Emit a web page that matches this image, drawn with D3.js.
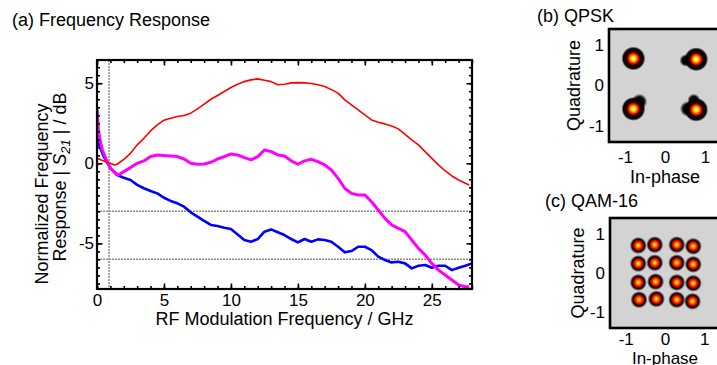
<!DOCTYPE html>
<html>
<head>
<meta charset="utf-8">
<script src="https://cdn.jsdelivr.net/npm/d3@7"></script>
<style>
  body { margin: 0; background: #fff; }
  svg { display: block; font-family: "Liberation Sans", Arial, sans-serif; }
</style>
</head>
<body>
<svg id="fig" width="717" height="365"></svg>
<script>
// (a) normalized |S21| in dB against RF frequency in GHz
const redFreq = [0, 0.5, 1, 1.3, 1.5, 2, 2.5, 3, 3.5, 4, 4.5, 5, 5.5, 6, 6.5, 7, 7.5, 8, 8.5, 9, 9.5, 10, 10.5, 11, 11.5, 12, 12.5, 13, 13.5, 14, 14.5, 15, 15.5, 16, 16.5, 17, 17.5, 18, 18.5, 19, 19.5, 20, 20.5, 21, 21.5, 22, 22.5, 23, 23.5, 24, 24.5, 25, 25.5, 26, 26.5, 27, 27.5, 27.8];
const redDb = [0.31, 0.15, 0.0, -0.1, -0.06, 0.25, 0.62, 1.15, 1.56, 2.02, 2.4, 2.69, 2.81, 2.92, 2.98, 3.13, 3.4, 3.69, 4.0, 4.23, 4.48, 4.73, 4.94, 5.1, 5.21, 5.27, 5.19, 5.1, 4.9, 4.94, 5.02, 5.04, 5.02, 4.98, 4.9, 4.79, 4.6, 4.38, 3.96, 3.65, 3.33, 3.02, 2.71, 2.56, 2.46, 2.33, 2.15, 1.81, 1.46, 1.15, 0.73, 0.31, -0.1, -0.48, -0.79, -1.04, -1.25, -1.35];

const magentaFreq = [0, 0.1, 0.2, 0.4, 0.7, 1, 1.3, 1.6, 2, 2.5, 3, 3.5, 4, 4.5, 5, 5.5, 6, 6.5, 7, 7.5, 8, 8.5, 9, 9.5, 10, 10.5, 11, 11.5, 12, 12.5, 13, 13.5, 14, 14.5, 15, 15.5, 16, 16.5, 17, 17.5, 18, 18.5, 19, 19.5, 20, 20.5, 21, 21.5, 22, 22.5, 23, 23.5, 24, 24.5, 25, 25.5, 26, 26.5, 27, 27.5, 27.8];
const magentaDb = [3.44, 2.19, 1.56, 0.83, 0.21, -0.31, -0.56, -0.73, -0.52, -0.27, 0.0, 0.15, 0.42, 0.52, 0.48, 0.46, 0.42, 0.27, 0.0, -0.06, -0.04, 0.06, 0.27, 0.42, 0.58, 0.52, 0.35, 0.21, 0.42, 0.83, 0.73, 0.52, 0.46, 0.15, -0.06, 0.15, 0.25, 0.1, -0.1, -0.42, -0.94, -1.56, -1.88, -1.98, -1.98, -2.4, -2.92, -3.44, -3.85, -4.06, -4.27, -4.79, -5.31, -5.73, -6.25, -6.67, -6.98, -7.29, -7.6, -7.71, -7.71];

const blueFreq = [0, 0.2, 0.5, 0.8, 1, 1.5, 2, 2.5, 3, 3.5, 4, 4.5, 5, 5.5, 6, 6.5, 7, 7.5, 8, 8.5, 9, 9.5, 10, 10.5, 11, 11.5, 12, 12.5, 13, 13.5, 14, 14.5, 15, 15.5, 16, 16.5, 17, 17.5, 18, 18.5, 19, 19.5, 20, 20.5, 21, 21.5, 22, 22.5, 23, 23.5, 24, 24.5, 25, 25.5, 26, 26.5, 27, 27.5, 28];
const blueDb = [1.56, 1.04, 0.42, 0.0, -0.31, -0.73, -0.9, -1.04, -1.35, -1.56, -1.73, -1.88, -2.15, -2.35, -2.5, -2.71, -3.06, -3.33, -3.6, -3.85, -3.92, -4.02, -4.1, -4.44, -4.79, -4.9, -4.73, -4.27, -4.13, -4.31, -4.48, -4.73, -4.94, -4.73, -4.9, -4.75, -4.79, -4.9, -5.21, -5.56, -5.48, -5.21, -5.21, -5.42, -5.83, -6.04, -6.19, -6.15, -6.25, -6.56, -6.4, -6.35, -6.52, -6.4, -6.4, -6.67, -6.52, -6.4, -6.25];

const freqTicks = [0, 5, 10, 15, 20, 25];
const dbTicks = [-5, 0, 5];
const refLevels = [-3, -6];
const refFreq = 0.9;

// (b) QPSK cluster centres and spread tails (I, Q, radius)
const qpskI = [-0.79, 0.78, -0.79, 0.78];
const qpskQ = [0.67, 0.65, -0.58, -0.60];
const qpskTailI = [0.52, -0.64, 0.57, 0.72];
const qpskTailQ = [0.62, -0.40, -0.58, -0.36];
const qpskTailR = [0.16, 0.2, 0.2, 0.16];

// (c) QAM-16 cluster centres
const qamI = [-0.68, -0.26, 0.30, 0.72, -0.68, -0.26, 0.30, 0.72, -0.68, -0.24, 0.30, 0.72, -0.66, -0.22, 0.30, 0.70];
const qamQ = [0.70, 0.72, 0.72, 0.68, 0.24, 0.26, 0.26, 0.22, -0.24, -0.22, -0.24, -0.26, -0.68, -0.66, -0.68, -0.72];

const iqTicks = [-1, 0, 1];

const svg = d3.select("#fig");
const FS = 18;
const TFS = 17;
const plain = d => String(d); // hyphen minus, like the original

// gradients for the density blobs
const defs = svg.append("defs");
function addGrad(id, stops) {
  const g = defs.append("radialGradient").attr("id", id);
  stops.forEach(s => g.append("stop").attr("offset", s[0]).attr("stop-color", s[1]).attr("stop-opacity", s[2] == null ? 1 : s[2]));
}
addGrad("qpskBlob", [["0%", "#fffff0"], ["11%", "#ffff40"], ["24%", "#ffb000"], ["37%", "#ff3000"], ["48%", "#a00000"], ["57%", "#200000"], ["84%", "#000", 0.95], ["100%", "#000", 0]]);
addGrad("qamBlob", [["0%", "#ffff90"], ["13%", "#ffd000"], ["30%", "#ff5a00"], ["48%", "#e00000"], ["62%", "#700000"], ["72%", "#000"], ["100%", "#000", 0]]);
addGrad("tailBlob", [["0%", "#000"], ["60%", "#000", 0.95], ["100%", "#000", 0]]);

// ---------- (a) frequency response ----------
const x = d3.scaleLinear().domain([0, 28]).range([97, 472]);
const y = d3.scaleLinear().domain([-7.85, 6.45]).range([289, 60]);

svg.append("text").attr("x", 12).attr("y", 26).attr("font-size", FS).text("(a) Frequency Response");

defs.append("clipPath").attr("id", "plotClip").append("rect")
  .attr("x", 97).attr("y", 60).attr("width", 375).attr("height", 229);

// reference lines
svg.selectAll(".ref").data(refLevels).enter().append("line")
  .attr("x1", x(0)).attr("x2", x(28))
  .attr("y1", d => y(d)).attr("y2", d => y(d))
  .attr("stroke", "#8c8c8c").attr("stroke-width", 1.5).attr("stroke-dasharray", "2,1");
svg.append("line")
  .attr("x1", x(refFreq)).attr("x2", x(refFreq))
  .attr("y1", y(6.45)).attr("y2", y(-7.85))
  .attr("stroke", "#8c8c8c").attr("stroke-width", 1.5).attr("stroke-dasharray", "2,1");

const series = [
  { f: blueFreq, v: blueDb, color: "#0000ff", w: 2.6 },
  { f: magentaFreq, v: magentaDb, color: "#ff00ff", w: 3 },
  { f: redFreq, v: redDb, color: "#ff0000", w: 1.6 }
];
const line = d3.line().x(d => x(d[0])).y(d => y(d[1]));
series.forEach(s => {
  svg.append("path")
    .datum(s.f.map((f, i) => [f, s.v[i]]))
    .attr("clip-path", "url(#plotClip)")
    .attr("fill", "none")
    .attr("stroke", s.color)
    .attr("stroke-width", s.w)
    .attr("stroke-linejoin", "round")
    .attr("d", line);
});

// ticks on all four sides (inward), major + minor
function styleAxis(g) {
  g.select(".domain").remove();
  g.selectAll("line").attr("stroke", "#000").attr("stroke-width", 1.6);
  g.selectAll("text").attr("font-size", TFS).attr("font-family", "Liberation Sans, Arial, sans-serif").attr("fill", "#000");
}
const minorF = d3.range(0, 29, 1);
const minorDb = d3.range(-7.5, 6.5, 0.5);

svg.append("g").attr("transform", "translate(0,289)")
  .call(d3.axisBottom(x).tickValues(freqTicks).tickFormat(plain).tickSizeInner(-5.5).tickSizeOuter(0).tickPadding(4.5)).call(styleAxis);
svg.append("g").attr("transform", "translate(0,289)")
  .call(d3.axisBottom(x).tickValues(minorF).tickFormat("").tickSizeInner(-3).tickSizeOuter(0)).call(styleAxis);
svg.append("g").attr("transform", "translate(0,60)")
  .call(d3.axisTop(x).tickValues(freqTicks).tickFormat("").tickSizeInner(-5.5).tickSizeOuter(0)).call(styleAxis);
svg.append("g").attr("transform", "translate(0,60)")
  .call(d3.axisTop(x).tickValues(minorF).tickFormat("").tickSizeInner(-3).tickSizeOuter(0)).call(styleAxis);
svg.append("g").attr("transform", "translate(97,0)")
  .call(d3.axisLeft(y).tickValues(dbTicks).tickFormat(plain).tickSizeInner(-5.5).tickSizeOuter(0).tickPadding(3)).call(styleAxis);
svg.append("g").attr("transform", "translate(97,0)")
  .call(d3.axisLeft(y).tickValues(minorDb).tickFormat("").tickSizeInner(-3).tickSizeOuter(0)).call(styleAxis);
svg.append("g").attr("transform", "translate(472,0)")
  .call(d3.axisRight(y).tickValues(dbTicks).tickFormat("").tickSizeInner(-5.5).tickSizeOuter(0)).call(styleAxis);
svg.append("g").attr("transform", "translate(472,0)")
  .call(d3.axisRight(y).tickValues(minorDb).tickFormat("").tickSizeInner(-3).tickSizeOuter(0)).call(styleAxis);

svg.append("rect").attr("x", 97).attr("y", 60).attr("width", 375).attr("height", 229)
  .attr("fill", "none").attr("stroke", "#000").attr("stroke-width", 2.2);

svg.append("text").attr("x", 284.5).attr("y", 325).attr("text-anchor", "middle")
  .attr("font-size", FS).text("RF Modulation Frequency / GHz");

svg.append("text").attr("transform", "translate(48,194) rotate(-90)").attr("text-anchor", "middle")
  .attr("font-size", FS).text("Normalized Frequency");
const yl2 = svg.append("text").attr("transform", "translate(66,177) rotate(-90)").attr("text-anchor", "middle")
  .attr("font-size", FS);
yl2.append("tspan").text("Response | ");
yl2.append("tspan").attr("font-style", "italic").text("S");
yl2.append("tspan").attr("font-style", "italic").attr("font-size", 13).attr("dy", 4).text("21");
yl2.append("tspan").attr("dy", -4).text(" | / dB");

// ---------- constellation panels ----------
function iqPanel(opt) {
  const px = d3.scaleLinear().domain([-1.4, 1.4]).range([opt.left, opt.right]);
  const py = d3.scaleLinear().domain([-1.4, 1.4]).range([opt.bottom, opt.top]);

  svg.append("text").attr("x", opt.titleX).attr("y", opt.titleY).attr("font-size", FS).text(opt.title);

  svg.append("rect").attr("x", opt.left).attr("y", opt.top)
    .attr("width", opt.right - opt.left).attr("height", opt.bottom - opt.top)
    .attr("fill", "#d3d3d3");

  if (opt.tailI) {
    svg.selectAll(null).data(opt.tailI).enter().append("circle")
      .attr("cx", d => px(d)).attr("cy", (d, i) => py(opt.tailQ[i]))
      .attr("r", (d, i) => px(opt.tailR[i]) - px(0))
      .attr("fill", "url(#tailBlob)");
  }
  svg.selectAll(null).data(opt.ci).enter().append("circle")
    .attr("cx", d => px(d)).attr("cy", (d, i) => py(opt.cq[i]))
    .attr("r", px(opt.spread) - px(0))
    .attr("fill", `url(#${opt.grad})`);

  svg.append("rect").attr("x", opt.left).attr("y", opt.top)
    .attr("width", opt.right - opt.left).attr("height", opt.bottom - opt.top)
    .attr("fill", "none").attr("stroke", "#000").attr("stroke-width", 2.6);

  svg.append("g").attr("transform", `translate(0,${opt.bottom})`)
    .call(d3.axisBottom(px).tickValues(iqTicks).tickFormat(plain).tickSize(0).tickPadding(opt.xPad)).call(styleAxis);
  svg.append("g").attr("transform", `translate(${opt.left},0)`)
    .call(d3.axisLeft(py).tickValues(iqTicks).tickFormat(plain).tickSize(0).tickPadding(5)).call(styleAxis);

  svg.append("text").attr("x", px(0)).attr("y", opt.xLabelY).attr("text-anchor", "middle")
    .attr("font-size", opt.xLabelSize).text("In-phase");
  svg.append("text").attr("transform", `translate(${opt.yLabelX},${py(0)}) rotate(-90)`)
    .attr("text-anchor", "middle").attr("font-size", FS).text("Quadrature");
}

iqPanel({
  title: "(b) QPSK", titleX: 537, titleY: 22,
  left: 609, right: 721, top: 29, bottom: 142,
  ci: qpskI, cq: qpskQ, spread: 0.3, grad: "qpskBlob",
  tailI: qpskTailI, tailQ: qpskTailQ, tailR: qpskTailR,
  xPad: 8.5, xLabelY: 183, xLabelSize: FS, yLabelX: 580
});

iqPanel({
  title: "(c) QAM-16", titleX: 545, titleY: 207,
  left: 610, right: 720, top: 218, bottom: 328,
  ci: qamI, cq: qamQ, spread: 0.22, grad: "qamBlob",
  xPad: 4.5, xLabelY: 364, xLabelSize: 17, yLabelX: 584
});
</script>
</body>
</html>
